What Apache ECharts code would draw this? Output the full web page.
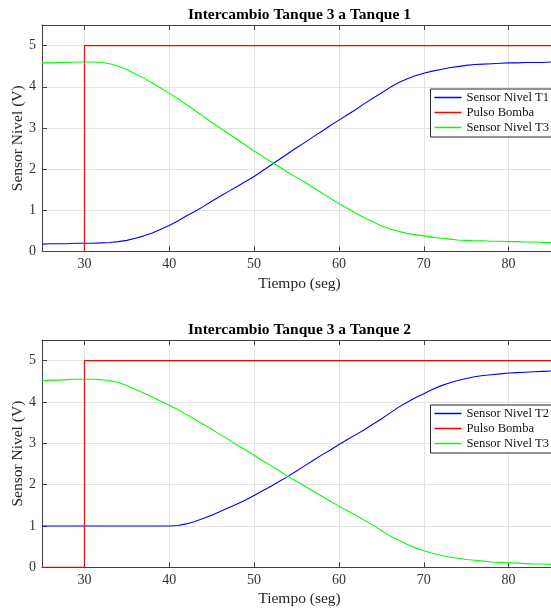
<!DOCTYPE html>
<html>
<head>
<meta charset="utf-8">
<script src="https://cdn.jsdelivr.net/npm/echarts@6/dist/echarts.min.js"></script>
<style>
  html, body { margin: 0; padding: 0; background: #ffffff; }
  #chart { width: 551px; height: 610px; }
</style>
</head>
<body>
<div id="chart"></div>
<script>
// Sample times (s) shared by all level signals
const tiempo = [25, 26, 27, 28, 29, 30, 31, 32, 33, 34,
                35, 36, 37, 38, 39, 40, 41, 42, 43, 44,
                45, 46, 47, 48, 49, 50, 51, 52, 53, 54,
                55, 56, 57, 58, 59, 60, 61, 62, 63, 64,
                65, 66, 67, 68, 69, 70, 71, 72, 73, 74,
                75, 76, 77, 78, 79, 80, 81, 82, 83, 84, 85];

// Transfer tank 3 -> tank 1
const nivelT1 = [0.18, 0.19, 0.19, 0.19, 0.20, 0.20, 0.20, 0.21, 0.22, 0.24,
                 0.27, 0.32, 0.38, 0.45, 0.54, 0.63, 0.74, 0.86, 0.97, 1.09,
                 1.22, 1.34, 1.46, 1.58, 1.70, 1.82, 1.96, 2.10, 2.24, 2.38,
                 2.52, 2.65, 2.79, 2.92, 3.06, 3.19, 3.32, 3.45, 3.59, 3.72,
                 3.85, 3.98, 4.10, 4.19, 4.27, 4.33, 4.38, 4.42, 4.46, 4.49,
                 4.52, 4.54, 4.55, 4.56, 4.57, 4.58, 4.58, 4.59, 4.59, 4.59, 4.60];
const nivelT3a = [4.58, 4.58, 4.59, 4.59, 4.60, 4.60, 4.60, 4.59, 4.56, 4.50,
                  4.42, 4.31, 4.21, 4.09, 3.97, 3.84, 3.71, 3.57, 3.43, 3.28,
                  3.14, 3.00, 2.86, 2.72, 2.58, 2.44, 2.31, 2.18, 2.05, 1.92,
                  1.80, 1.68, 1.55, 1.42, 1.29, 1.16, 1.05, 0.93, 0.82, 0.72,
                  0.62, 0.55, 0.49, 0.44, 0.41, 0.38, 0.35, 0.32, 0.30, 0.28,
                  0.27, 0.26, 0.26, 0.25, 0.25, 0.24, 0.24, 0.23, 0.23, 0.22, 0.22];

// Transfer tank 3 -> tank 2
const nivelT2 = [1.00, 1.00, 1.00, 1.00, 1.00, 1.00, 1.00, 1.00, 1.00, 1.00,
                 1.00, 1.00, 1.00, 1.00, 1.00, 1.00, 1.01, 1.05, 1.11, 1.18,
                 1.26, 1.35, 1.44, 1.53, 1.63, 1.74, 1.85, 1.96, 2.08, 2.20,
                 2.33, 2.46, 2.59, 2.72, 2.84, 2.97, 3.09, 3.21, 3.33, 3.46,
                 3.59, 3.73, 3.87, 3.99, 4.10, 4.20, 4.30, 4.39, 4.46, 4.52,
                 4.57, 4.61, 4.64, 4.66, 4.68, 4.70, 4.71, 4.72, 4.73, 4.74, 4.75];
const nivelT3b = [4.52, 4.53, 4.53, 4.54, 4.55, 4.55, 4.55, 4.54, 4.52, 4.47,
                  4.40, 4.31, 4.21, 4.12, 4.02, 3.92, 3.82, 3.70, 3.58, 3.46,
                  3.34, 3.21, 3.09, 2.96, 2.84, 2.71, 2.58, 2.46, 2.33, 2.20,
                  2.08, 1.96, 1.84, 1.72, 1.60, 1.48, 1.37, 1.26, 1.14, 1.02,
                  0.89, 0.76, 0.66, 0.56, 0.47, 0.40, 0.34, 0.29, 0.25, 0.22,
                  0.19, 0.17, 0.15, 0.13, 0.12, 0.11, 0.10, 0.09, 0.08, 0.08, 0.07];

// Pump pulse: off until t = 30 s, then 5 V
const pulsoTiempo = [25, 30, 30, 85];
const pulsoValor = [0, 0, 5, 5];

// Axis ticks
const xTicks = [30, 40, 50, 60, 70, 80];
const yTicks = [0, 1, 2, 3, 4, 5];

const FONT = '"Liberation Serif", "Times New Roman", serif';
const AXIS_COLOR = '#404040';
const GRID_COLOR = '#e4e4e4';
const COLORS = { tank: '#0000ff', pulse: '#ff0000', t3: '#00ff00' };

const pairs = (t, v) => t.map((x, i) => [x, v[i]]);

const panels = [
  { top: 25, height: 226.5, title: 'Intercambio Tanque 3 a Tanque 1',
    tankName: 'Sensor Nivel T1', tank: nivelT1, t3: nivelT3a, legendTop: 89 },
  { top: 340, height: 227.3, title: 'Intercambio Tanque 3 a Tanque 2',
    tankName: 'Sensor Nivel T2', tank: nivelT2, t3: nivelT3b, legendTop: 405 }
];

const GRID_LEFT = 42, GRID_WIDTH = 515;
const LEGEND_LEFT = 430.5;

const grid = [], xAxis = [], yAxis = [], series = [], legend = [], graphic = [];

panels.forEach((p, i) => {
  grid.push({ left: GRID_LEFT, top: p.top, width: GRID_WIDTH, height: p.height });

  // bottom axis with labels
  xAxis.push({
    type: 'value', gridIndex: i, min: 25, max: 85, position: 'bottom',
    axisLine: { show: true, onZero: false, lineStyle: { color: AXIS_COLOR, width: 1 } },
    axisTick: { show: true, inside: true, length: 5, customValues: xTicks,
                lineStyle: { color: AXIS_COLOR } },
    axisLabel: { customValues: xTicks, margin: 6, color: '#333',
                 fontFamily: FONT, fontSize: 14 },
    splitLine: { show: true, lineStyle: { color: GRID_COLOR, width: 1 } }
  });
  // top border of the box
  xAxis.push({
    type: 'value', gridIndex: i, min: 25, max: 85, position: 'top',
    axisLine: { show: true, onZero: false, lineStyle: { color: AXIS_COLOR, width: 1 } },
    axisTick: { show: true, inside: true, length: 5, customValues: xTicks,
                lineStyle: { color: AXIS_COLOR } },
    axisLabel: { show: false },
    splitLine: { show: false }
  });
  yAxis.push({
    type: 'value', gridIndex: i, min: 0, max: 5.5,
    axisLine: { show: true, onZero: false, lineStyle: { color: AXIS_COLOR, width: 1 } },
    axisTick: { show: true, inside: true, length: 5, customValues: yTicks,
                lineStyle: { color: AXIS_COLOR } },
    axisLabel: { customValues: yTicks, margin: 6, color: '#333',
                 fontFamily: FONT, fontSize: 14 },
    splitLine: { show: true, lineStyle: { color: GRID_COLOR, width: 1 } }
  });

  const base = { type: 'line', xAxisIndex: i * 2, yAxisIndex: i, symbol: 'none',
                 animation: false, silent: true };
  series.push(Object.assign({}, base, {
    name: p.tankName, data: pairs(tiempo, p.tank), color: COLORS.tank,
    lineStyle: { color: COLORS.tank, width: 1.1 }
  }));
  series.push(Object.assign({}, base, {
    name: 'Pulso Bomba', data: pairs(pulsoTiempo, pulsoValor), color: COLORS.pulse,
    lineStyle: { color: COLORS.pulse, width: 1.1 }
  }));
  series.push(Object.assign({}, base, {
    name: 'Sensor Nivel T3', data: pairs(tiempo, p.t3), color: COLORS.t3,
    lineStyle: { color: COLORS.t3, width: 1.1 }
  }));

  // legend box: runs past the right edge of the page
  graphic.push({
    type: 'rect', z: 3, silent: true,
    shape: { x: LEGEND_LEFT, y: p.legendTop, width: 140, height: 48 },
    style: { fill: '#ffffff', stroke: '#262626', lineWidth: 1 }
  });
  legend.push({
    data: [p.tankName, 'Pulso Bomba', 'Sensor Nivel T3'],
    orient: 'vertical', left: LEGEND_LEFT, top: p.legendTop, z: 5,
    padding: [1, 4, 2, 4], itemGap: 0, itemWidth: 27, itemHeight: 1.5,
    icon: 'rect', selectedMode: false,
    textStyle: { fontFamily: FONT, fontSize: 12.6, color: '#111', lineHeight: 15 }
  });

  const cx = GRID_LEFT + GRID_WIDTH / 2;
  graphic.push({
    type: 'text', x: cx, y: p.top - 10.5,
    style: { text: p.title, align: 'center', verticalAlign: 'middle',
             font: 'bold 15.5px ' + FONT, fill: '#000' }
  });
  graphic.push({
    type: 'text', x: cx, y: p.top + p.height + 32,
    style: { text: 'Tiempo (seg)', align: 'center', verticalAlign: 'middle',
             font: '15.5px ' + FONT, fill: '#262626' }
  });
  graphic.push({
    type: 'text', x: 18, y: p.top + p.height / 2, rotation: Math.PI / 2,
    style: { text: 'Sensor Nivel (V)', align: 'center', verticalAlign: 'middle',
             font: '15.5px ' + FONT, fill: '#262626' }
  });
});

const chart = echarts.init(document.getElementById('chart'), null, { renderer: 'canvas' });
chart.setOption({
  backgroundColor: '#ffffff',
  animation: false,
  grid, xAxis, yAxis, series, legend, graphic
});
</script>
</body>
</html>
